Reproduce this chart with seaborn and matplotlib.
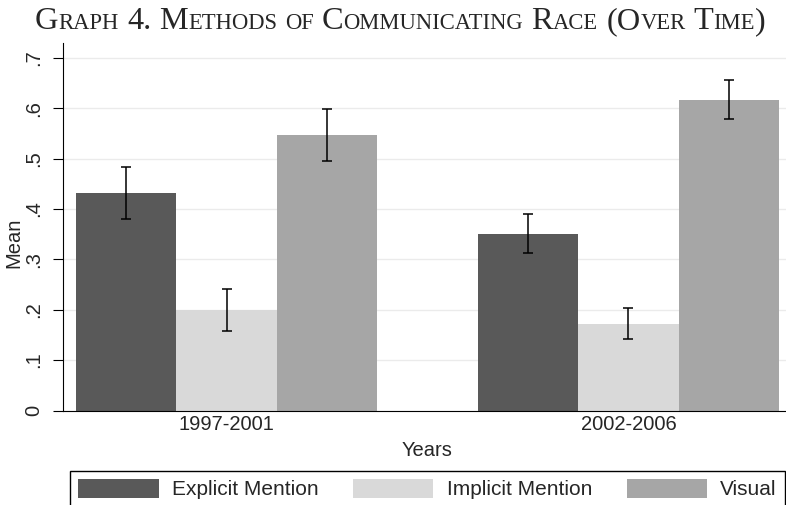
import seaborn as sns
import matplotlib.pyplot as plt
import matplotlib.ticker as mticker
import pandas as pd
import numpy as np

# values
years = ['1997-2001', '2002-2006']
methods = ['Explicit Mention', 'Implicit Mention', 'Visual']
means = {
    'Explicit Mention': [0.431, 0.350],
    'Implicit Mention': [0.199, 0.172],
    'Visual': [0.547, 0.617],
}
ci_low = {
    'Explicit Mention': [0.380, 0.312],
    'Implicit Mention': [0.158, 0.142],
    'Visual': [0.496, 0.578],
}
ci_high = {
    'Explicit Mention': [0.483, 0.390],
    'Implicit Mention': [0.241, 0.203],
    'Visual': [0.598, 0.656],
}
colors = ['#595959', '#d9d9d9', '#a6a6a6']
title = 'Graph 4. Methods of Communicating Race (Over Time)'

rows = []
for m in methods:
    for i, y in enumerate(years):
        rows.append({'Years': y, 'Method': m, 'Mean': means[m][i]})
df = pd.DataFrame(rows)

sns.set_style('white')
plt.rcParams['font.family'] = ['Liberation Sans', 'DejaVu Sans']

W, H = 786, 505
fig = plt.figure(figsize=(W / 100, H / 100), dpi=100)
ax = fig.add_axes([63 / W, (H - 410.5) / H, 729 / W, 367.9 / H])

sns.barplot(data=df, x='Years', y='Mean', hue='Method', hue_order=methods,
            palette=colors, width=0.75, errorbar=None, saturation=1,
            linewidth=0, ax=ax)

# error bars at the bar centres seaborn computed
for cont, m in zip(ax.containers, methods):
    xs = [b.get_x() + b.get_width() / 2 for b in cont]
    mu = np.array(means[m])
    err = [mu - np.array(ci_low[m]), np.array(ci_high[m]) - mu]
    ax.errorbar(xs, mu, yerr=err, fmt='none', ecolor='black',
                elinewidth=1.1, capsize=3.6, capthick=1.1, zorder=5)

ax.set_xlim(-0.407, 1.407)
ax.set_ylim(0, 0.73)
ax.set_yticks(np.arange(0, 0.71, 0.1))
ax.yaxis.set_major_formatter(mticker.FuncFormatter(
    lambda v, p: '0' if abs(v) < 1e-9 else f'{v:.1f}'.lstrip('0')))
ax.yaxis.grid(True, color='#ebebeb', lw=1.0)
ax.set_axisbelow(True)

for s in ['top', 'right']:
    ax.spines[s].set_visible(False)
for s in ['left', 'bottom']:
    ax.spines[s].set_color('black')
    ax.spines[s].set_linewidth(0.8)

ax.tick_params(axis='y', length=7, width=0.8, color='black', pad=7,
               labelsize=14.5, labelrotation=90, left=True)
for lab in ax.get_yticklabels():
    lab.set_va('center')
ax.tick_params(axis='x', length=0, pad=3.5, labelsize=14.5)

ax.set_xlabel('Years', fontsize=14.5, labelpad=5)
ax.set_ylabel('Mean', fontsize=14.5)
ax.yaxis.set_label_coords(-40 / 729, (410.5 - 243) / 367.9)

handles, labels = ax.get_legend_handles_labels()
ax.get_legend().remove()
fig.legend(handles, labels, loc='upper left',
           bbox_to_anchor=(70 / W, 1 - 470.7 / H), borderaxespad=0,
           ncol=3, frameon=True,
           fancybox=False, edgecolor='black', framealpha=1, fontsize=15,
           handlelength=3.85, handleheight=1.0, handletextpad=0.63,
           columnspacing=1.68, borderpad=0.4)

# small-caps title built from pieces
renderer = fig.canvas.get_renderer()
big, small = 23.3, 16.3
x = 35
base_y = (H - 29.3) / H
space = 0.25 * big * 100 / 72
for word in title.split(' '):
    segs = []
    for ch in word:
        is_big = not ch.islower()
        if segs and segs[-1][1] == is_big:
            segs[-1][0] += ch.upper()
        else:
            segs.append([ch.upper(), is_big])
    for txt, is_big in segs:
        t = fig.text(x / W, base_y, txt, fontsize=big if is_big else small,
                     family='Liberation Serif', va='baseline', ha='left')
        x += t.get_window_extent(renderer).width
    x += space

fig.savefig('out.png', dpi=100)
